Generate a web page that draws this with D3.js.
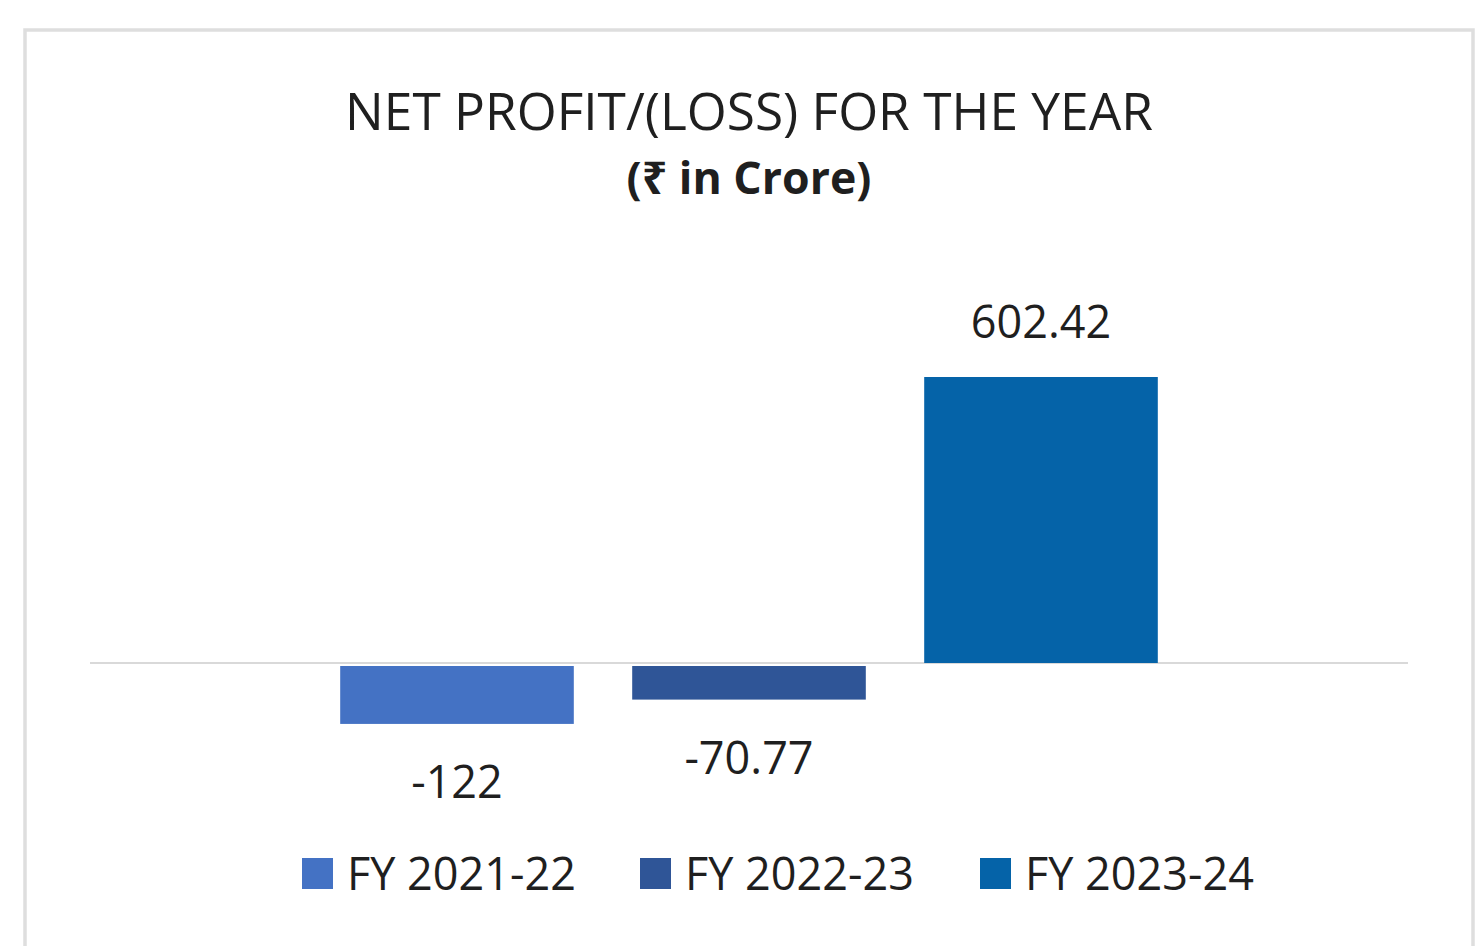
<!DOCTYPE html>
<html>
<head>
<meta charset="utf-8">
<script src="https://cdn.jsdelivr.net/npm/d3@7"></script>
<style>
    body { margin: 0; background: #fff; }
    svg { display: block; }
    text { font-family: "Open Sans", "Noto Sans", "DejaVu Sans", sans-serif; fill: #1f1f1f; }
</style>
</head>
<body>
<div id="chart"></div>
<script>

// chart data
var seriesNames = ["FY 2021-22", "FY 2022-23", "FY 2023-24"];
var seriesValues = [-122, -70.77, 602.42];
var valueLabels = ["-122", "-70.77", "602.42"];
var seriesColours = ["#4472c4", "#2f5597", "#0563a8"];
var titleText = "NET PROFIT/(LOSS) FOR THE YEAR";
var subtitleText = "(\u20B9 in Crore)";

var W = 1478, H = 946;

var svg = d3.select("#chart").append("svg")
    .attr("width", W)
    .attr("height", H);

// outer chart frame (runs off the bottom of the picture)
svg.append("rect")
    .attr("x", 25)
    .attr("y", 30)
    .attr("width", 1448)
    .attr("height", 940)
    .style("fill", "#fff")
    .style("stroke", "#dedede")
    .style("stroke-width", 3.5);

// scales
var x = d3.scaleBand()
    .domain(seriesNames)
    .range([311, 1187])
    .paddingInner(0.2)
    .paddingOuter(0.1);

var y = d3.scaleLinear()
    .domain([0, 602.42])
    .range([663, 377]);

// fit a text element to a target width by adjusting its font size
function fitText(sel, targetWidth) {
    var w = sel.node().getComputedTextLength();
    var fs = parseFloat(sel.style("font-size"));
    sel.style("font-size", (fs * targetWidth / w) + "px");
}

var title = svg.append("text")
    .attr("x", 749)
    .attr("y", 130)
    .style("text-anchor", "middle")
    .style("font-size", "46px")
    .text(titleText);
fitText(title, 808);

var subtitle = svg.append("text")
    .attr("x", 749)
    .attr("y", 194)
    .style("text-anchor", "middle")
    .style("font-size", "40px")
    .style("font-weight", "bold")
    .text(subtitleText);
fitText(subtitle, 245);

// zero line
svg.append("line")
    .attr("x1", 90)
    .attr("x2", 1408)
    .attr("y1", y(0))
    .attr("y2", y(0))
    .style("stroke", "#d9d9d9")
    .style("stroke-width", 2);

// bars
svg.selectAll(".bar")
    .data(seriesValues)
    .enter().append("rect")
    .attr("class", "bar")
    .attr("x", function(d, i) { return x(seriesNames[i]); })
    .attr("width", x.bandwidth())
    .attr("y", function(d) { return d >= 0 ? y(d) : y(0) + 3; })
    .attr("height", function(d) { return Math.abs(y(d) - y(0)); })
    .style("fill", function(d, i) { return seriesColours[i]; });

// value labels
svg.selectAll(".value-label")
    .data(seriesValues)
    .enter().append("text")
    .attr("class", "value-label")
    .attr("x", function(d, i) { return x(seriesNames[i]) + x.bandwidth() / 2; })
    .attr("y", function(d) { return d >= 0 ? y(d) - 39 : y(d) + 77; })
    .style("text-anchor", "middle")
    .style("font-size", "45px")
    .text(function(d, i) { return valueLabels[i]; });

// legend
var legendX = [302, 640, 980];
var legend = svg.selectAll(".legend-item")
    .data(seriesNames)
    .enter().append("g")
    .attr("class", "legend-item")
    .attr("transform", function(d, i) { return "translate(" + legendX[i] + ",858)"; });

legend.append("rect")
    .attr("width", 31)
    .attr("height", 31)
    .style("fill", function(d, i) { return seriesColours[i]; });

legend.append("text")
    .attr("x", 45)
    .attr("y", 32)
    .style("font-size", "45px")
    .text(function(d) { return d; });

</script>
</body>
</html>
